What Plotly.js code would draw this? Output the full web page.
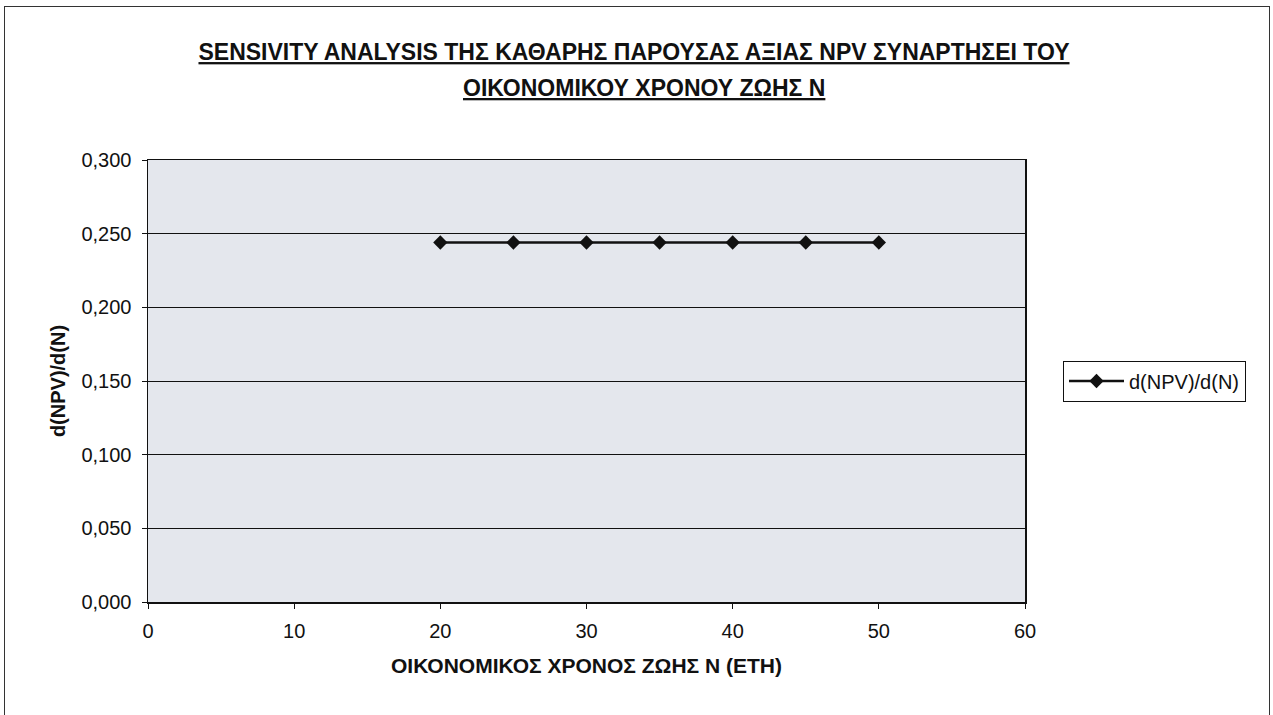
<!DOCTYPE html>
<html><head><meta charset="utf-8">
<script src="https://cdn.plot.ly/plotly-3.0.1.min.js"></script>
<style>
html,body{margin:0;padding:0;background:#fff;}
#frame{position:absolute;left:4px;top:6px;width:1266px;height:720px;border:1.5px solid #333;box-sizing:border-box;}
#chart{position:absolute;left:0;top:0;width:1273px;height:715px;}
</style></head>
<body>
<div id="chart"></div>
<div id="frame"></div>
<script>
const years = [20, 25, 30, 35, 40, 45, 50];
const sensitivity = [0.244, 0.244, 0.244, 0.244, 0.244, 0.244, 0.244];
const seriesName = 'd(NPV)/d(N)';
const titleLine1 = 'SENSIVITY ANALYSIS ΤΗΣ ΚΑΘΑΡΗΣ ΠΑΡΟΥΣΑΣ ΑΞΙΑΣ NPV ΣΥΝΑΡΤΗΣΕΙ ΤΟΥ';
const titleLine2 = 'ΟΙΚΟΝΟΜΙΚΟΥ ΧΡΟΝΟΥ ΖΩΗΣ Ν';
const xTitle = 'ΟΙΚΟΝΟΜΙΚΟΣ ΧΡΟΝΟΣ ΖΩΗΣ Ν (ΕΤΗ)';
const yTitle = 'd(NPV)/d(N)';

const titleFont = {family:'"Liberation Sans Narrow", "Arial Narrow", "Liberation Sans", Arial, sans-serif', size:23, color:'#111', weight:'bold', lineposition:'under'};

const trace = {
  x: years, y: sensitivity, name: seriesName, type:'scatter', mode:'lines+markers',
  line:{color:'#111', width:2.5},
  marker:{symbol:'diamond', size:11, color:'#111'}
};

const layout = {
  width:1273, height:715,
  margin:{l:148, r:248, t:160, b:113},
  paper_bgcolor:'rgba(0,0,0,0)', plot_bgcolor:'#e4e7ed',
  separators:',.',
  font:{family:'"Liberation Sans", Arial, sans-serif', size:20, color:'#111'},
  title:{text:titleLine1, font:titleFont, x:634/1273, xanchor:'center', xref:'container', y:1-52/715, yref:'container', yanchor:'middle'},
  annotations:[{text:titleLine2, font:titleFont, xref:'paper', x:(644-148)/877, yref:'paper', y:1+(160-88)/442, yanchor:'middle', showarrow:false}],
  xaxis:{range:[0,60], dtick:10, tick0:0, showgrid:false, zeroline:false,
    showline:true, linecolor:'#111', linewidth:1.5, ticks:'outside', ticklen:5, tickcolor:'#111',
    tickfont:{size:20}, mirror:true, ticklabelstandoff:5,
    title:{text:'<b>'+xTitle+'</b>', font:{size:21}, standoff:18}},
  yaxis:{range:[0,0.3], dtick:0.05, tick0:0, tickformat:'.3f', showgrid:true, gridcolor:'#111', gridwidth:1,
    zeroline:false, showline:true, linecolor:'#111', linewidth:1.5, ticks:'outside', ticklen:5, tickcolor:'#111',
    tickfont:{size:20}, mirror:true, ticklabelstandoff:6,
    title:{text:'<b>'+yTitle+'</b>', font:{size:20}, standoff:10}},
  showlegend:true,
  legend:{x:(1063-148)/877, xanchor:'left', y:0.5, yanchor:'middle', bgcolor:'#fff', bordercolor:'#111', borderwidth:1,
    font:{size:20}, itemwidth:55, tracegroupgap:0}
};
Plotly.newPlot('chart', [trace], layout, {displayModeBar:false, staticPlot:true});
</script>
</body></html>
